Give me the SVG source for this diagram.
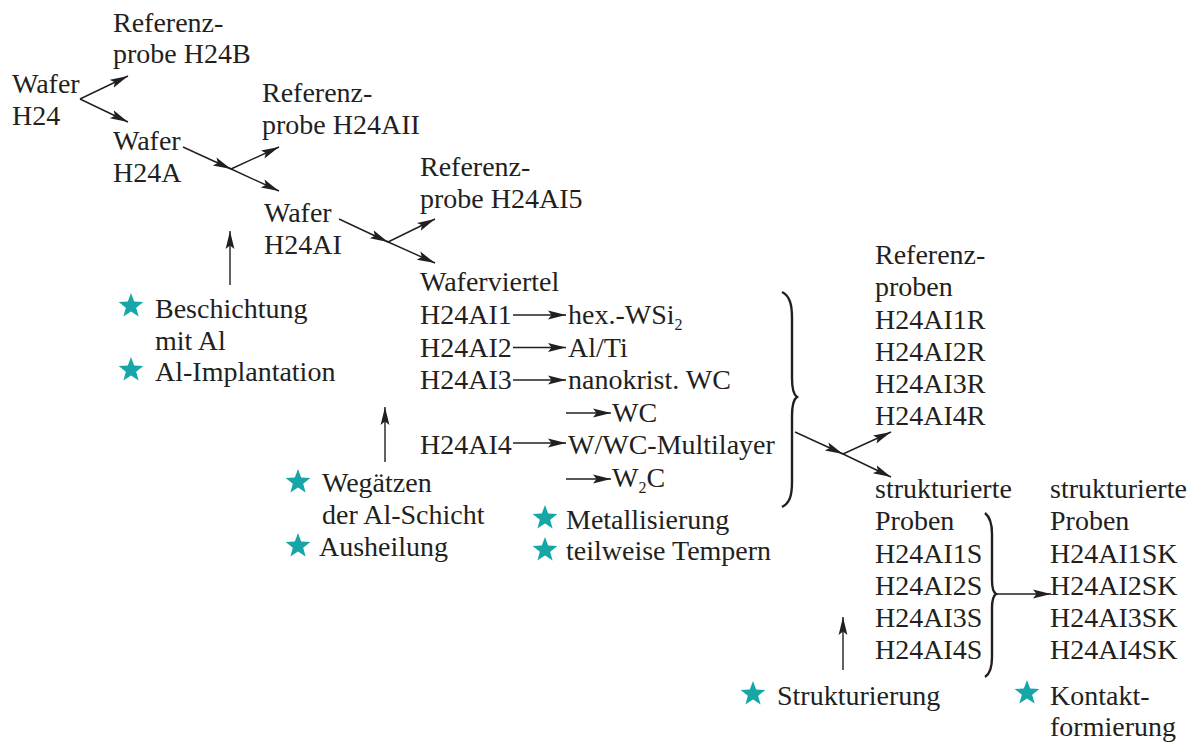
<svg xmlns="http://www.w3.org/2000/svg" width="1197" height="742" viewBox="0 0 1197 742">
<style>
text{font-family:"Liberation Serif","Times New Roman",serif;font-size:28px;fill:#231f20}
.sub{font-size:16px}
.ln{stroke:#231f20;stroke-width:1.4;fill:none}
.br{stroke:#231f20;stroke-width:2.4;fill:none}
.star{fill:#17a6a8}
</style>
<defs>
<marker id="ah" markerUnits="userSpaceOnUse" markerWidth="22" markerHeight="12" refX="18" refY="5" orient="auto">
<path d="M0,0.6 L18,5 L0,9.4 L3.5,5 Z" fill="#231f20"/>
</marker>
<path id="star" d="M0,-13 L3.2,-4.4 L12.36,-4.02 L5.16,1.68 L7.64,10.52 L0,5.4 L-7.64,10.52 L-5.16,1.68 L-12.36,-4.02 L-3.2,-4.4 Z"/>
</defs>
<rect width="1197" height="742" fill="#fff"/>

<g id="connectors">
<line class="ln" x1="80" y1="99" x2="128" y2="76" marker-end="url(#ah)"/>
<line class="ln" x1="80" y1="99" x2="128" y2="122" marker-end="url(#ah)"/>
<line class="ln" x1="183" y1="147" x2="231" y2="169" marker-end="url(#ah)"/>
<line class="ln" x1="229" y1="168" x2="279" y2="191" marker-end="url(#ah)"/>
<line class="ln" x1="231" y1="169" x2="279" y2="147" marker-end="url(#ah)"/>
<line class="ln" x1="339" y1="219" x2="388" y2="242" marker-end="url(#ah)"/>
<line class="ln" x1="386" y1="241" x2="435" y2="263" marker-end="url(#ah)"/>
<line class="ln" x1="388" y1="242" x2="435" y2="219" marker-end="url(#ah)"/>
<line class="ln" x1="513" y1="315" x2="566" y2="315" marker-end="url(#ah)"/>
<line class="ln" x1="513" y1="347.5" x2="566" y2="347.5" marker-end="url(#ah)"/>
<line class="ln" x1="513" y1="380" x2="566" y2="380" marker-end="url(#ah)"/>
<line class="ln" x1="566" y1="413" x2="611" y2="413" marker-end="url(#ah)"/>
<line class="ln" x1="513" y1="443" x2="566" y2="443" marker-end="url(#ah)"/>
<line class="ln" x1="566" y1="479" x2="611" y2="479" marker-end="url(#ah)"/>
<path class="br" d="M782,292 C790,296 792,305 792,318 L792,378 C792,390 794,395 797,397 C794,399 792,404 792,416 L792,482 C792,495 790,503 782,507"/>
<line class="ln" x1="795" y1="432" x2="843" y2="454" marker-end="url(#ah)"/>
<line class="ln" x1="841" y1="453" x2="891" y2="477" marker-end="url(#ah)"/>
<line class="ln" x1="843" y1="454" x2="891" y2="432" marker-end="url(#ah)"/>
<path class="br" d="M985,513 C990,517 992,524 992,534 L992,580 C992,588 993,592 996,594 C993,596 992,600 992,608 L992,657 C992,668 990,674 985,677"/>
<line class="ln" x1="996" y1="594" x2="1051" y2="594" marker-end="url(#ah)"/>
<line class="ln" x1="230" y1="285" x2="230" y2="231" marker-end="url(#ah)"/>
<line class="ln" x1="385" y1="462" x2="385" y2="407" marker-end="url(#ah)"/>
<line class="ln" x1="843" y1="670" x2="843" y2="617" marker-end="url(#ah)"/>
</g>

<g id="ref-h24b"><text x="113" y="32">Referenz-</text><text x="113" y="63">probe H24B</text></g>
<g id="wafer-h24"><text x="12" y="93">Wafer</text><text x="12" y="125">H24</text></g>
<g id="wafer-h24a"><text x="113" y="150">Wafer</text><text x="113" y="182">H24A</text></g>
<g id="ref-h24aii"><text x="262" y="102">Referenz-</text><text x="262" y="134">probe H24AII</text></g>
<g id="wafer-h24ai"><text x="264" y="222">Wafer</text><text x="264" y="254">H24AI</text></g>
<g id="ref-h24ai5"><text x="420" y="176">Referenz-</text><text x="420" y="208">probe H24AI5</text></g>
<g id="waferviertel">
<text x="420" y="291">Waferviertel</text>
<text x="420" y="324">H24AI1</text>
<text x="420" y="357">H24AI2</text>
<text x="420" y="389">H24AI3</text>
<text x="420" y="454">H24AI4</text>
</g>
<g id="metallisierungen">
<text x="568" y="324">hex.-WSi<tspan class="sub" dy="6">2</tspan></text>
<text x="568" y="357">Al/Ti</text>
<text x="568" y="389">nanokrist. WC</text>
<text x="612" y="422">WC</text>
<text x="568" y="454">W/WC-Multilayer</text>
<text x="612" y="487">W<tspan class="sub" dy="6">2</tspan><tspan dy="-6">C</tspan></text>
</g>
<g id="referenzproben">
<text x="875" y="264">Referenz-</text>
<text x="875" y="296">proben</text>
<text x="875" y="329">H24AI1R</text>
<text x="875" y="361">H24AI2R</text>
<text x="875" y="393">H24AI3R</text>
<text x="875" y="425">H24AI4R</text>
</g>
<g id="strukturierte-proben">
<text x="875" y="498">strukturierte</text>
<text x="875" y="530">Proben</text>
<text x="875" y="563">H24AI1S</text>
<text x="875" y="595">H24AI2S</text>
<text x="875" y="627">H24AI3S</text>
<text x="875" y="659">H24AI4S</text>
</g>
<g id="strukturierte-proben-k">
<text x="1050" y="498">strukturierte</text>
<text x="1050" y="530">Proben</text>
<text x="1050" y="563">H24AI1SK</text>
<text x="1050" y="595">H24AI2SK</text>
<text x="1050" y="627">H24AI3SK</text>
<text x="1050" y="659">H24AI4SK</text>
</g>
<g id="step-beschichtung">
<use href="#star" class="star" x="131" y="306"/>
<text x="155" y="318">Beschichtung</text>
<text x="155" y="350">mit Al</text>
<use href="#star" class="star" x="131" y="370"/>
<text x="155" y="381">Al-Implantation</text>
</g>
<g id="step-wegaetzen">
<use href="#star" class="star" x="298" y="482"/>
<text x="322" y="492">Wegätzen</text>
<text x="322" y="524">der Al-Schicht</text>
<use href="#star" class="star" x="298" y="546"/>
<text x="319" y="556">Ausheilung</text>
</g>
<g id="step-metallisierung">
<use href="#star" class="star" x="545" y="518"/>
<text x="566" y="529">Metallisierung</text>
<use href="#star" class="star" x="545" y="550"/>
<text x="566" y="560">teilweise Tempern</text>
</g>
<g id="step-strukturierung">
<use href="#star" class="star" x="753" y="694"/>
<text x="777" y="705">Strukturierung</text>
</g>
<g id="step-kontakt">
<use href="#star" class="star" x="1027" y="693"/>
<text x="1050" y="705">Kontakt-</text>
<text x="1050" y="736">formierung</text>
</g>
</svg>
